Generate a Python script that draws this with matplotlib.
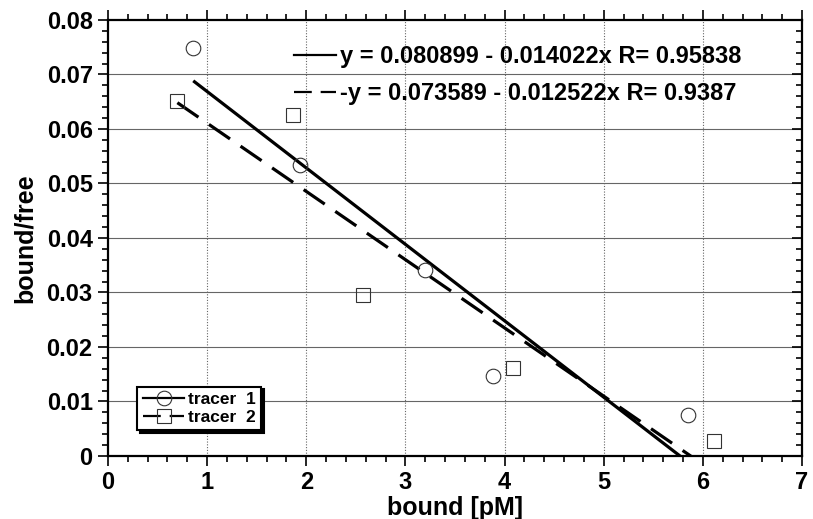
import matplotlib.pyplot as plt
import numpy as np
from matplotlib.ticker import MultipleLocator

plt.rcParams.update({
    "font.family": ["Liberation Sans", "DejaVu Sans"],
    "font.weight": "bold",
    "font.size": 15,
})

# tracer 1 (circles) and tracer 2 (squares)
x_t1 = [0.86, 1.94, 3.20, 3.88, 5.85]
y_t1 = [0.0749, 0.0534, 0.0341, 0.0147, 0.0075]
x_t2 = [0.70, 1.87, 2.57, 4.09, 6.11]
y_t2 = [0.0651, 0.0626, 0.0295, 0.0161, 0.0028]

# fitted lines: y = a - b*x
fit_t1 = (0.080899, 0.014022, 0.95838)
fit_t2 = (0.073589, 0.012522, 0.9387)

x_ticks = [0, 1, 2, 3, 4, 5, 6, 7]
y_ticks = [0, 0.01, 0.02, 0.03, 0.04, 0.05, 0.06, 0.07, 0.08]
y_labels = ["0", "0.01", "0.02", "0.03", "0.04", "0.05", "0.06", "0.07", "0.08"]

fig = plt.figure(figsize=(8.13, 5.19), dpi=100)
ax = fig.add_axes([0.1328, 0.1214, 0.8537, 0.8401])

# grid
for yv in y_ticks[1:-1]:
    ax.axhline(yv, color="#666666", lw=0.8, zorder=0)
for xv in x_ticks[1:-1]:
    ax.axvline(xv, color="#666666", lw=0.8, ls=(0, (1, 1.5)), zorder=0)

# points
ax.plot(x_t1, y_t1, ls="none", marker="o", ms=10.5, mfc="none",
        mec="#333333", mew=0.8, zorder=3)
ax.plot(x_t2, y_t2, ls="none", marker="s", ms=10, mfc="none",
        mec="#333333", mew=0.8, zorder=3)

# fit lines over each data range
xs1 = np.array([min(x_t1), max(x_t1)])
xs2 = np.array([min(x_t2), max(x_t2)])
ax.plot(xs1, fit_t1[0] - fit_t1[1] * xs1, color="black", lw=2.3,
        solid_capstyle="butt", zorder=2)
ax.plot(xs2, fit_t2[0] - fit_t2[1] * xs2, color="black", lw=2.3,
        ls=(0, (8, 4)), dash_capstyle="butt", zorder=2)

ax.set_xlim(0, 7)
ax.set_ylim(0, 0.08)
ax.set_xticks(x_ticks)
ax.set_yticks(y_ticks)
ax.set_yticklabels(y_labels)
ax.xaxis.set_minor_locator(MultipleLocator(0.2))
ax.yaxis.set_minor_locator(MultipleLocator(0.002))
ax.tick_params(which="both", top=True, right=True, width=1.2,
               direction="out")
ax.tick_params(which="major", length=7, labelsize=17, pad=4)
ax.tick_params(which="minor", length=4)
# right-hand ticks point inward like the original
for t in ax.yaxis.get_major_ticks() + ax.yaxis.get_minor_ticks():
    t.tick2line.set_marker(0)
for s in ax.spines.values():
    s.set_linewidth(1.6)

ax.set_xlabel("bound [pM]", fontsize=18, fontweight="bold", labelpad=1)
ax.set_ylabel("bound/free", fontsize=18, fontweight="bold", labelpad=7)

# equation legend
eq_labels = [
    "y = %.6f - %.6fx R= %s" % (fit_t1[0], fit_t1[1], fit_t1[2]),
    "-y = %.6f - %.6fx R= %s" % (fit_t2[0], fit_t2[1], fit_t2[2]),
]
h1 = plt.Line2D([], [], color="black", lw=1.6)
h2 = plt.Line2D([], [], color="black", lw=1.6, ls=(0, (8, 4)))
leg_eq = ax.legend([h1, h2], eq_labels, loc="upper left",
                   bbox_to_anchor=(0.268, 0.943), frameon=False,
                   borderaxespad=0, borderpad=0,
                   handlelength=1.8, handletextpad=0.15, labelspacing=0.6,
                   prop={"weight": "bold", "size": 17})
ax.add_artist(leg_eq)

# tracer legend
t1 = plt.Line2D([], [], color="black", lw=1.6, marker="o", ms=10.5,
                mfc="none", mec="#333333", mew=0.8)
t2 = plt.Line2D([], [], color="black", lw=1.6, ls=(0, (8, 4)), marker="s",
                ms=10, mfc="none", mec="#333333", mew=0.8)
leg = ax.legend([t1, t2], ["tracer  1", "tracer  2"], loc="lower left",
                bbox_to_anchor=(0.03, 0.04), frameon=True, fancybox=False,
                shadow={"color": "black", "alpha": 1}, handlelength=2.4,
                handletextpad=0.2, labelspacing=0.15, borderpad=0.3,
                prop={"weight": "bold", "size": 12.5})
leg.get_frame().set_edgecolor("black")
leg.get_frame().set_linewidth(1.5)

fig.savefig("out.png", dpi=100)
